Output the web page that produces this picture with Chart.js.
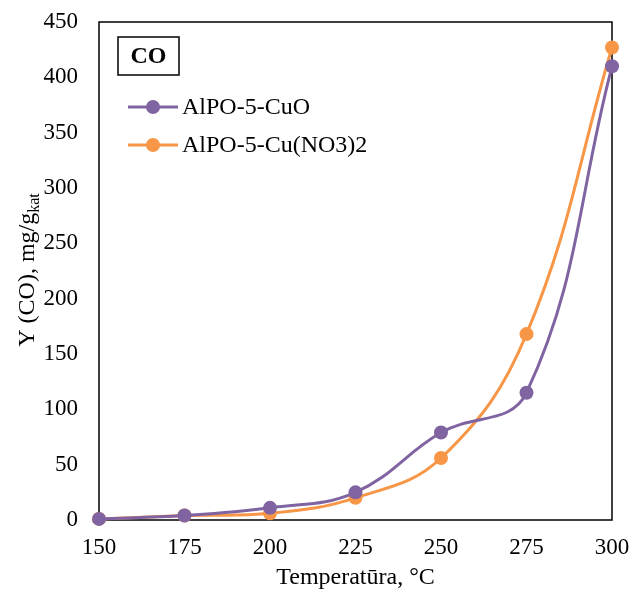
<!DOCTYPE html>
<html>
<head>
<meta charset="utf-8">
<script src="https://cdn.jsdelivr.net/npm/chart.js@4/dist/chart.umd.min.js"></script>
<style>
  html, body { margin: 0; padding: 0; background: #fff; }
  #wrap { width: 633px; height: 593px; }
</style>
</head>
<body>
<div id="wrap"><canvas id="coChart" width="633" height="593"></canvas></div>
<script>
// temperatures, °C
const temperatures = [150, 175, 200, 225, 250, 275, 300];
// CO yield, mg/g_kat
const cuoYield = [1, 4, 11, 25, 79, 115, 410];
const cuNitrateYield = [1, 4, 6, 20, 56, 168, 427];

const seriesNames = ['AlPO-5-CuO', 'AlPO-5-Cu(NO3)2'];
const seriesColors = ['#8064A2', '#F79646'];

const FONT = '"Liberation Serif", "Times New Roman", serif';

function toPoints(ys) {
    return temperatures.map((t, i) => ({ x: t, y: ys[i] }));
}

// keep tick labels from pushing the plot area around
function fixScale(scale, size) {
    if (scale.isHorizontal()) {
        scale.height = size;
    } else {
        scale.width = size;
    }
    scale.paddingTop = 0;
    scale.paddingBottom = 0;
    scale.paddingLeft = 0;
    scale.paddingRight = 0;
}

// frame, axis titles, "CO" tag and legend drawn straight onto the canvas
const decorations = {
    id: 'decorations',
    beforeDatasetsDraw(chart) {
        const { ctx, chartArea: a } = chart;
        ctx.save();
        ctx.strokeStyle = '#000';
        ctx.lineWidth = 1.5;
        ctx.strokeRect(a.left, a.top, a.right - a.left, a.bottom - a.top);
        ctx.restore();
    },
    afterDraw(chart) {
        const { ctx, chartArea: a } = chart;
        ctx.save();
        ctx.fillStyle = '#000';

        // x title
        ctx.font = '24px ' + FONT;
        ctx.textAlign = 'center';
        ctx.textBaseline = 'middle';
        ctx.fillText('Temperatūra, °C', (a.left + a.right) / 2, 578);

        // y title with subscript
        ctx.translate(26, 270);
        ctx.rotate(-Math.PI / 2);
        const main = 'Y (CO), mg/g';
        const sub = 'kat';
        ctx.font = '24px ' + FONT;
        const wMain = ctx.measureText(main).width;
        ctx.font = '16px ' + FONT;
        const wSub = ctx.measureText(sub).width;
        const start = -(wMain + wSub) / 2;
        ctx.textAlign = 'left';
        ctx.textBaseline = 'alphabetic';
        ctx.font = '24px ' + FONT;
        ctx.fillText(main, start, 8);
        ctx.font = '16px ' + FONT;
        ctx.fillText(sub, start + wMain, 13);
        ctx.setTransform(1, 0, 0, 1, 0, 0);

        // "CO" tag
        ctx.strokeStyle = '#000';
        ctx.lineWidth = 1.5;
        ctx.strokeRect(118, 37, 61, 38);
        ctx.font = 'bold 24px ' + FONT;
        ctx.textAlign = 'center';
        ctx.textBaseline = 'middle';
        ctx.fillText('CO', 148.5, 57);

        // legend
        const rows = [107, 145];
        rows.forEach((y, i) => {
            ctx.strokeStyle = seriesColors[i];
            ctx.lineWidth = 3;
            ctx.beginPath();
            ctx.moveTo(128, y);
            ctx.lineTo(178, y);
            ctx.stroke();
            ctx.fillStyle = seriesColors[i];
            ctx.beginPath();
            ctx.arc(153, y, 7, 0, Math.PI * 2);
            ctx.fill();
            ctx.fillStyle = '#000';
            ctx.font = '24px ' + FONT;
            ctx.textAlign = 'left';
            ctx.textBaseline = 'middle';
            ctx.fillText(seriesNames[i], 182, y + 1);
        });
        ctx.restore();
    }
};

const ctx = document.getElementById('coChart').getContext('2d');
window.myChart = new Chart(ctx, {
    type: 'line',
    data: {
        datasets: [
            { label: seriesNames[0], data: toPoints(cuoYield) },
            { label: seriesNames[1], data: toPoints(cuNitrateYield) }
        ].map((ds, i) => Object.assign(ds, {
            borderColor: seriesColors[i],
            backgroundColor: seriesColors[i],
            borderWidth: 3,
            pointRadius: 7,
            pointHoverRadius: 7,
            pointBorderWidth: 0,
            tension: 0.4,
            fill: false,
            clip: false
        }))
    },
    options: {
        responsive: false,
        animation: false,
        events: [],
        layout: { padding: { top: 22, right: 21, left: 0, bottom: 0 } },
        plugins: {
            legend: { display: false },
            tooltip: { enabled: false }
        },
        scales: {
            x: {
                type: 'linear',
                min: 150,
                max: 300,
                grid: { display: false, drawTicks: false },
                border: { display: false },
                ticks: {
                    stepSize: 25,
                    padding: 14,
                    color: '#000',
                    maxRotation: 0,
                    font: { family: FONT, size: 23 }
                },
                afterFit(scale) { fixScale(scale, 73); }
            },
            y: {
                min: 0,
                max: 450,
                grid: { display: false, drawTicks: false },
                border: { display: false },
                ticks: {
                    stepSize: 50,
                    padding: 21,
                    color: '#000',
                    font: { family: FONT, size: 23 }
                },
                afterFit(scale) { fixScale(scale, 99); }
            }
        }
    },
    plugins: [decorations]
});
</script>
</body>
</html>
